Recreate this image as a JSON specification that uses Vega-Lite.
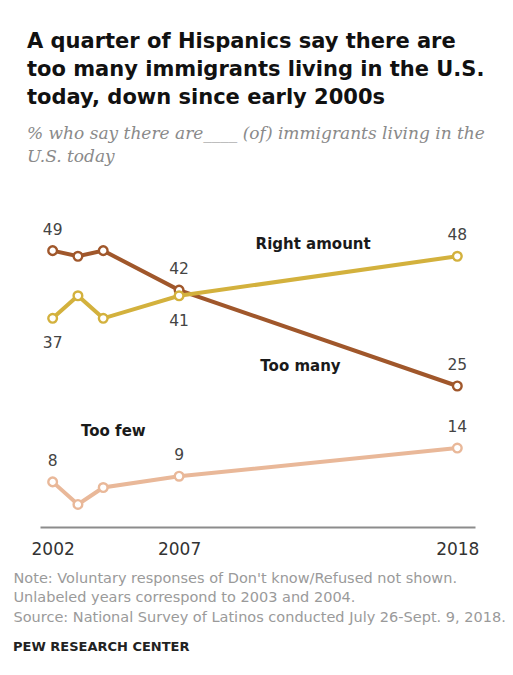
{
  "$schema": "https://vega.github.io/schema/vega-lite/v6.json",
  "background": "white",
  "autosize": "pad",
  "padding": {"left": 13, "top": 30, "right": 5, "bottom": 20},
  "title": {
    "text": "PEW RESEARCH CENTER",
    "orient": "bottom",
    "anchor": "start",
    "font": "DejaVu Sans",
    "fontSize": 13,
    "fontWeight": "bold",
    "color": "#222222",
    "offset": 17
  },
  "datasets": {
    "survey": [
      {"year": 2002, "series": "Too many", "value": 49},
      {"year": 2003, "series": "Too many", "value": 48},
      {"year": 2004, "series": "Too many", "value": 49},
      {"year": 2007, "series": "Too many", "value": 42},
      {"year": 2018, "series": "Too many", "value": 25},
      {"year": 2002, "series": "Right amount", "value": 37},
      {"year": 2003, "series": "Right amount", "value": 41},
      {"year": 2004, "series": "Right amount", "value": 37},
      {"year": 2007, "series": "Right amount", "value": 41},
      {"year": 2018, "series": "Right amount", "value": 48},
      {"year": 2002, "series": "Too few", "value": 8},
      {"year": 2003, "series": "Too few", "value": 4},
      {"year": 2004, "series": "Too few", "value": 7},
      {"year": 2007, "series": "Too few", "value": 9},
      {"year": 2018, "series": "Too few", "value": 14}
    ],
    "names": [
      {"series": "Right amount", "year": 2012.3, "value": 50.1},
      {"series": "Too many", "year": 2011.8, "value": 28.5},
      {"series": "Too few", "year": 2004.4, "value": 17.0}
    ]
  },
  "vconcat": [
    {
      "width": 435,
      "height": 282,
      "title": {
        "text": ["A quarter of Hispanics say there are", "too many immigrants living in the U.S.", "today, down since early 2000s"],
        "subtitle": ["% who say there are____ (of) immigrants living in the", "U.S. today"],
        "anchor": "start",
        "dx": 14,
        "font": "DejaVu Sans",
        "fontSize": 21,
        "fontWeight": "bold",
        "color": "#111111",
        "lineHeight": 28,
        "subtitleFont": "DejaVu Serif",
        "subtitleFontSize": 17,
        "subtitleFontStyle": "italic",
        "subtitleColor": "#8a8a8a",
        "subtitleLineHeight": 23,
        "subtitlePadding": 18,
        "offset": 58
      },
      "data": {"name": "survey"},
      "encoding": {
        "x": {
          "field": "year",
          "type": "quantitative",
          "scale": {"domain": [2001.5, 2018.7], "zero": false, "nice": false},
          "axis": {
            "values": [2002, 2007, 2018],
            "format": "d",
            "grid": false,
            "ticks": false,
            "labelFont": "DejaVu Sans",
            "labelFontSize": 17,
            "labelColor": "#333333",
            "labelPadding": 14,
            "domainColor": "#8c8c8c",
            "domainWidth": 2,
            "title": ["Note: Voluntary responses of Don't know/Refused not shown.", "Unlabeled years correspond to 2003 and 2004.", "Source: National Survey of Latinos conducted July 26-Sept. 9, 2018."],
            "titleAnchor": "start",
            "titleAlign": "left",
            "titleBaseline": "top",
            "titleX": -27,
            "titleY": 44,
            "titleFont": "DejaVu Sans",
            "titleFontSize": 14.5,
            "titleFontWeight": "normal",
            "titleColor": "#9a9a9a",
            "titleLineHeight": 19.5
          }
        },
        "y": {
          "field": "value",
          "type": "quantitative",
          "scale": {"domain": [0, 50], "nice": false},
          "axis": null
        },
        "color": {
          "field": "series",
          "type": "nominal",
          "scale": {"domain": ["Too many", "Right amount", "Too few"], "range": ["#a0572b", "#d3b13d", "#e9b899"]},
          "legend": null
        }
      },
      "layer": [
        {
          "mark": {"type": "line", "strokeWidth": 4}
        },
        {
          "mark": {"type": "point", "filled": false, "fill": "white", "opacity": 1, "strokeWidth": 2.4, "size": 75}
        },
        {
          "transform": [
            {"filter": "datum.year == 2002 || datum.year == 2007 || datum.year == 2018"},
            {"filter": "!(datum.series == 'Right amount' && datum.year < 2010)"}
          ],
          "mark": {"type": "text", "dy": -21, "baseline": "middle", "font": "DejaVu Sans", "fontSize": 15.5},
          "encoding": {"text": {"field": "value", "type": "quantitative"}, "color": {"value": "#444444"}}
        },
        {
          "transform": [
            {"filter": "datum.series == 'Right amount' && (datum.year == 2002 || datum.year == 2007)"}
          ],
          "mark": {"type": "text", "dy": 25, "baseline": "middle", "font": "DejaVu Sans", "fontSize": 15.5},
          "encoding": {"text": {"field": "value", "type": "quantitative"}, "color": {"value": "#444444"}}
        },
        {
          "data": {"name": "names"},
          "mark": {"type": "text", "baseline": "middle", "font": "DejaVu Sans", "fontSize": 15, "fontWeight": "bold"},
          "encoding": {"text": {"field": "series", "type": "nominal"}, "color": {"value": "#1a1a1a"}}
        }
      ]
    }
  ],
  "config": {"view": {"stroke": null}, "concat": {"spacing": 0}}
}
